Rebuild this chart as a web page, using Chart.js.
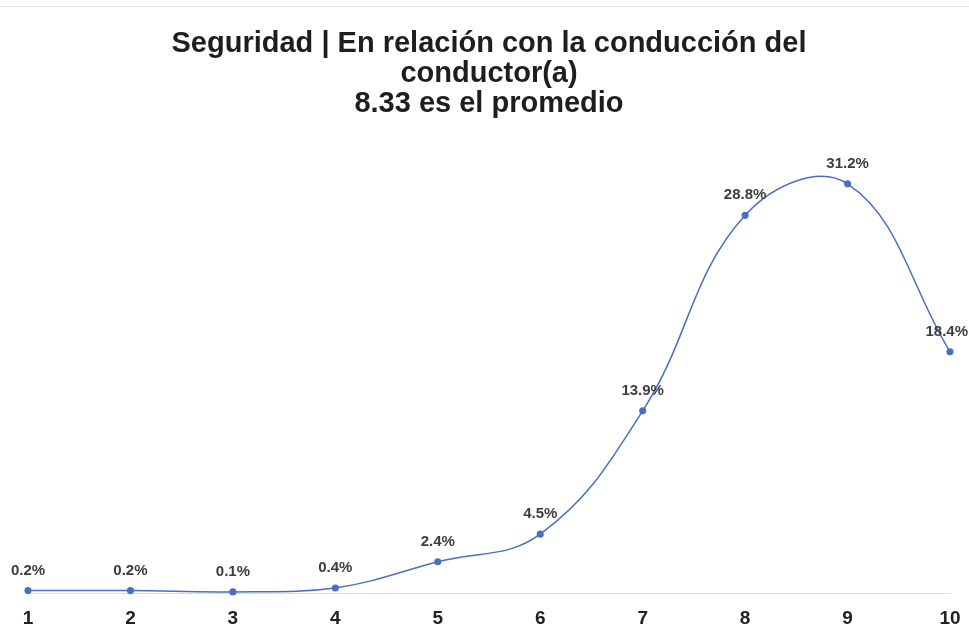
<!DOCTYPE html>
<html>
<head>
<meta charset="utf-8">
<script src="https://cdn.jsdelivr.net/npm/chart.js@4"></script>
<style>
  html, body { margin: 0; padding: 0; background: #fff; }
  .wrap { position: relative; width: 969px; height: 632px; overflow: hidden; }
  .topline { position: absolute; left: 0; right: 0; top: 6px; height: 1px; background: #e4e4e4; }
</style>
</head>
<body>
<div class="wrap">
  <div class="topline"></div>
  <canvas id="chart" width="969" height="646"></canvas>
</div>
<script>
// ---- data ----
const categories = ['1', '2', '3', '4', '5', '6', '7', '8', '9', '10'];
const percentages = [0.2, 0.2, 0.1, 0.4, 2.4, 4.5, 13.9, 28.8, 31.2, 18.4];
const titleLines = ['Seguridad | En relación con la conducción del', 'conductor(a)', '8.33 es el promedio'];

const FONT = '"Liberation Sans", Arial, Helvetica, sans-serif';

// draws "x.x%" over each point, kept inside the canvas
const pointLabels = {
  id: 'pointLabels',
  afterDatasetsDraw(chart) {
    const ctx = chart.ctx;
    const meta = chart.getDatasetMeta(0);
    ctx.save();
    ctx.font = 'bold 15px ' + FONT;
    ctx.fillStyle = '#3d3d3d';
    ctx.textAlign = 'center';
    ctx.textBaseline = 'middle';
    meta.data.forEach((pt, i) => {
      const txt = percentages[i].toFixed(1) + '%';
      const half = ctx.measureText(txt).width / 2;
      const x = Math.max(half + 1, Math.min(pt.x, chart.width - half - 1));
      ctx.fillText(txt, x, pt.y - 20);
    });
    ctx.restore();
  }
};

new Chart(document.getElementById('chart'), {
  type: 'line',
  data: {
    labels: categories,
    datasets: [{
      data: percentages,
      borderColor: '#4a6fc0',
      backgroundColor: '#4a6fc0',
      borderWidth: 1.5,
      tension: 0.4,
      pointRadius: 2.8,
      pointHoverRadius: 2.8,
      clip: false
    }]
  },
  options: {
    responsive: false,
    animation: false,
    layout: { padding: { left: 28, right: 19, top: 14, bottom: 2 } },
    plugins: {
      legend: { display: false },
      tooltip: { enabled: false },
      title: {
        display: true,
        text: titleLines,
        color: '#1e1e1e',
        font: { family: FONT, size: 29, weight: 'bold', lineHeight: '30px' },
        padding: { top: 15, bottom: 15 }
      }
    },
    scales: {
      x: {
        offset: false,
        grid: { display: false, drawTicks: false },
        border: { display: true, color: '#dcdcdc', width: 1 },
        ticks: { color: '#222', padding: 14, font: { family: FONT, size: 19, weight: 'bold' } },
        afterFit(scale) { scale.paddingLeft = 0; scale.paddingRight = 0; }
      },
      y: {
        display: false,
        min: 0,
        max: 35
      }
    }
  },
  plugins: [pointLabels]
});
</script>
</body>
</html>
